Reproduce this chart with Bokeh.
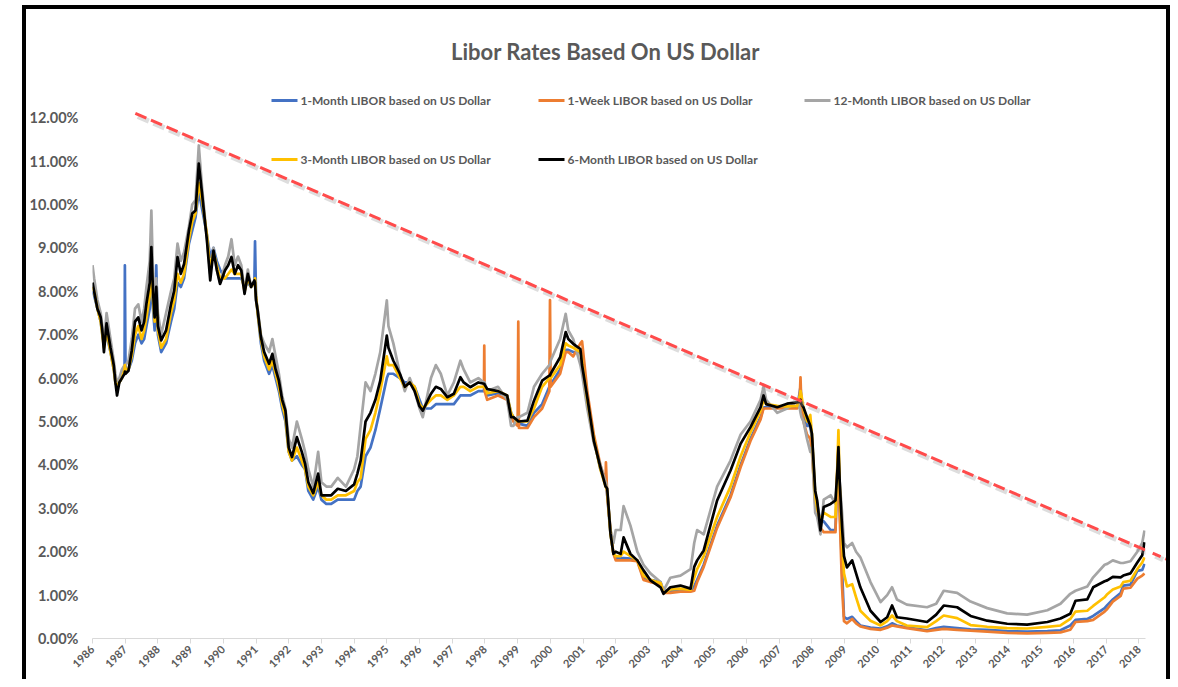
import math
from bokeh.plotting import figure
from bokeh.models import (Range1d, FixedTicker, PrintfTickFormatter, Arrow,
                          NormalHead, Label, ColumnDataSource)
from bokeh.embed import file_html
from bokeh.resources import INLINE

# ---------------- data (decimal years, percent) ----------------
dates = [
    1986.00, 1986.05, 1986.15, 1986.25, 1986.30, 1986.35, 1986.43, 1986.55, 1986.65, 1986.70, 1986.75, 1986.82, 1986.90, 1986.98, 1986.99,
    1987.01, 1987.10, 1987.20, 1987.30, 1987.40, 1987.50, 1987.58, 1987.65, 1987.75, 1987.80, 1987.85, 1987.90, 1987.95,
    1988.00, 1988.10, 1988.25, 1988.40, 1988.50, 1988.60, 1988.70, 1988.80, 1988.95,
    1989.05, 1989.15, 1989.25, 1989.35, 1989.50, 1989.60, 1989.70, 1989.80, 1989.90,
    1990.05, 1990.15, 1990.25, 1990.35, 1990.45, 1990.55, 1990.65, 1990.75, 1990.85, 1990.95, 1990.97,
    1991.00, 1991.05, 1991.15, 1991.25, 1991.40, 1991.50, 1991.60, 1991.70, 1991.80, 1991.90,
    1992.00, 1992.10, 1992.25, 1992.40, 1992.50, 1992.60, 1992.75, 1992.90,
    1993.00, 1993.15, 1993.30, 1993.50, 1993.75,
    1994.00, 1994.10, 1994.20, 1994.35, 1994.50, 1994.65, 1994.80,
    1995.00, 1995.05, 1995.20, 1995.40, 1995.55, 1995.70, 1995.85,
    1996.00, 1996.10, 1996.35, 1996.50, 1996.65, 1996.85,
    1997.05, 1997.25, 1997.35, 1997.55, 1997.80, 1997.97, 1997.98, 1997.99,
    1998.07, 1998.40, 1998.68, 1998.80, 1998.87,
    1999.00, 1999.02, 1999.04, 1999.30, 1999.50, 1999.75, 1999.97, 1999.99,
    2000.01, 2000.30, 2000.47, 2000.55, 2000.70, 2000.92, 2000.97,
    2001.13, 2001.33, 2001.53, 2001.69, 2001.70, 2001.74, 2001.84, 2001.93,
    2002.00, 2002.15, 2002.24, 2002.45, 2002.66, 2002.85,
    2003.06, 2003.37, 2003.46, 2003.67, 2003.98,
    2004.29, 2004.40, 2004.49, 2004.69,
    2005.10, 2005.51, 2005.82,
    2006.12, 2006.43, 2006.52, 2006.60, 2006.94,
    2007.24, 2007.55, 2007.63, 2007.65, 2007.68, 2007.74, 2007.85, 2007.95,
    2008.00, 2008.10, 2008.16, 2008.26, 2008.36, 2008.57, 2008.72, 2008.78, 2008.81, 2008.85, 2008.92, 2008.98,
    2009.07, 2009.23, 2009.35, 2009.48, 2009.79,
    2010.10, 2010.30, 2010.45, 2010.60, 2010.90,
    2011.52, 2011.80,
    2012.03, 2012.44, 2012.85,
    2013.36, 2013.97,
    2014.58,
    2015.20, 2015.60, 2015.90,
    2016.06, 2016.42, 2016.60, 2016.95,
    2017.03, 2017.20, 2017.44, 2017.52, 2017.74, 2017.95,
    2018.10, 2018.17,
]

libor_1m = [
    8.0, 7.9, 7.6, 7.3, 7.0, 6.8, 7.0, 6.6, 6.2, 5.9, 5.8, 5.9, 6.0, 6.2, 8.6,
    6.2, 6.2, 6.4, 6.8, 7.0, 6.8, 6.9, 7.2, 7.6, 8.3, 7.6, 7.1, 8.6,
    7.0, 6.6, 6.8, 7.3, 7.6, 8.2, 8.1, 8.3, 9.1,
    9.4, 9.7, 10.3, 9.9, 9.3, 8.8, 9.0, 8.7, 8.5,
    8.3, 8.3, 8.3, 8.3, 8.3, 8.3, 8.1, 8.2, 8.1, 8.2, 9.15,
    7.9, 7.5, 6.8, 6.4, 6.1, 6.3, 6.0, 5.7, 5.3, 5.0,
    4.3, 4.1, 4.2, 4.0, 3.9, 3.4, 3.2, 3.5,
    3.2, 3.1, 3.1, 3.2, 3.2,
    3.2, 3.4, 3.5, 4.2, 4.4, 4.8, 5.3,
    6.0, 6.1, 6.1, 6.0, 5.9, 5.9, 5.8,
    5.5, 5.3, 5.3, 5.4, 5.4, 5.4,
    5.4, 5.6, 5.6, 5.6, 5.7, 5.7, 5.8, 5.7,
    5.6, 5.65, 5.6, 5.2, 5.1,
    5.0, 5.0, 4.95, 4.9, 5.2, 5.4, 5.8, 5.9,
    5.85, 6.2, 6.65, 6.65, 6.6, 6.6, 6.5,
    5.6, 4.6, 3.9, 3.6, 3.6, 3.3, 2.4, 1.95,
    1.85, 1.85, 1.85, 1.84, 1.8, 1.4,
    1.35, 1.3, 1.1, 1.1, 1.1,
    1.1, 1.2, 1.35, 1.7,
    2.6, 3.3, 4.0,
    4.6, 5.1, 5.32, 5.33, 5.32,
    5.32, 5.32, 5.7, 5.8, 5.5, 5.2, 4.9, 4.9,
    4.6, 3.3, 3.1, 2.7, 2.7, 2.5, 2.5, 3.9, 4.3, 3.0, 1.6, 0.5,
    0.45, 0.5, 0.4, 0.3, 0.25,
    0.23, 0.28, 0.35, 0.3, 0.26,
    0.19, 0.24,
    0.27, 0.24, 0.21,
    0.2, 0.17,
    0.16,
    0.17, 0.19, 0.3,
    0.43, 0.45, 0.52, 0.7,
    0.77, 0.9, 1.05, 1.22, 1.24, 1.56,
    1.58, 1.72,
]

# the 1-week series is only present from the end of 1997 on
week_start = 1997.97
libor_1w = [
    5.8, 6.75, 5.7,
    5.5, 5.6, 5.5, 5.1, 5.0,
    4.9, 7.3, 4.85, 4.85, 5.1, 5.3, 5.7, 7.8,
    5.8, 6.1, 6.6, 6.6, 6.5, 6.8, 6.85,
    5.7, 4.7, 4.0, 3.6, 4.06, 3.3, 2.5, 1.95,
    1.8, 1.8, 1.8, 1.8, 1.78, 1.35,
    1.3, 1.25, 1.05, 1.05, 1.08,
    1.08, 1.1, 1.3, 1.65,
    2.55, 3.25, 3.95,
    4.55, 5.05, 5.3, 5.3, 5.3,
    5.3, 5.3, 5.6, 6.02, 5.3, 5.0, 4.7, 4.6,
    4.3, 3.1, 3.0, 2.55, 2.45, 2.45, 2.45, 4.0, 4.4, 2.8, 1.2, 0.4,
    0.35, 0.45, 0.35, 0.28, 0.22,
    0.2, 0.25, 0.3, 0.28, 0.24,
    0.17, 0.2,
    0.22, 0.2, 0.18,
    0.16, 0.13,
    0.12,
    0.13, 0.14, 0.2,
    0.38, 0.4, 0.43, 0.62,
    0.68, 0.85, 0.98, 1.15, 1.17, 1.38,
    1.45, 1.5,
]

libor_12m = [
    8.6, 8.3, 7.8, 7.5, 7.2, 6.8, 7.5, 6.9, 6.4, 6.1, 5.9, 6.0, 6.2, 6.3, 6.3,
    6.3, 6.4, 6.9, 7.6, 7.7, 7.3, 7.6, 8.1, 8.7, 9.86, 8.4, 7.7, 8.3,
    7.5, 7.0, 7.5, 8.0, 8.3, 9.1, 8.7, 8.9, 9.5,
    10.0, 10.1, 11.36, 10.4, 9.2, 8.4, 9.0, 8.5, 8.2,
    8.6, 8.8, 9.2, 8.6, 8.8, 8.6, 8.0, 8.5, 8.1, 8.2, 8.2,
    7.8, 7.6, 7.0, 6.8, 6.6, 6.9, 6.5, 6.1, 5.6, 5.3,
    4.6, 4.4, 5.0, 4.6, 4.3, 3.9, 3.5, 4.3,
    3.6, 3.5, 3.5, 3.7, 3.5,
    3.9, 4.2, 4.9, 5.9, 5.7, 6.1, 6.6,
    7.79, 7.2, 6.8, 6.1, 5.7, 6.0, 5.7,
    5.3, 5.1, 6.0, 6.3, 6.1, 5.6,
    5.9, 6.4, 6.2, 5.9, 6.0, 5.9, 5.9, 5.9,
    5.7, 5.8, 5.5, 4.9, 4.9,
    5.1, 5.1, 5.1, 5.2, 5.8, 6.1, 6.3, 6.3,
    6.4, 6.9, 7.48, 7.1, 6.9, 6.3, 6.1,
    5.3, 4.5, 4.0, 3.6, 3.6, 3.4, 2.5, 2.2,
    2.5, 2.5, 3.05, 2.6, 2.0, 1.7,
    1.5, 1.3, 1.1, 1.4, 1.45,
    1.6, 2.2, 2.5, 2.4,
    3.5, 4.1, 4.7,
    5.0, 5.5, 5.8, 5.5, 5.2,
    5.3, 5.45, 5.3, 5.2, 5.1, 5.0, 4.6, 4.3,
    4.4, 2.9, 2.8, 2.4, 3.2, 3.3, 3.1, 3.8, 4.0, 3.6, 2.9, 2.2,
    2.1, 2.2, 2.0, 1.87, 1.3,
    0.84, 1.0, 1.18, 0.9, 0.78,
    0.72, 0.8,
    1.1, 1.05, 0.85,
    0.70, 0.58,
    0.55,
    0.65, 0.8, 1.03,
    1.1, 1.2, 1.41, 1.7,
    1.72, 1.8, 1.74, 1.74, 1.78, 2.0,
    2.2, 2.49,
]

libor_3m = [
    8.1, 8.0, 7.6, 7.3, 7.0, 6.7, 7.1, 6.6, 6.2, 5.9, 5.8, 5.9, 6.0, 6.2, 6.3,
    6.2, 6.2, 6.5, 7.0, 7.2, 6.9, 7.1, 7.4, 7.9, 8.7, 7.8, 7.3, 7.8,
    7.1, 6.7, 6.9, 7.5, 7.8, 8.4, 8.2, 8.4, 9.2,
    9.6, 9.8, 10.5, 10.1, 9.3, 8.5, 8.9, 8.6, 8.3,
    8.3, 8.4, 8.5, 8.4, 8.4, 8.4, 8.0, 8.3, 8.1, 8.2, 8.3,
    7.9, 7.5, 6.9, 6.5, 6.2, 6.4, 6.1, 5.8, 5.4, 5.1,
    4.3, 4.1, 4.4, 4.1, 3.9, 3.5, 3.3, 3.6,
    3.3, 3.2, 3.2, 3.3, 3.3,
    3.4, 3.6, 3.7, 4.6, 4.8, 5.2, 5.7,
    6.5, 6.3, 6.3, 6.0, 5.8, 5.9, 5.8,
    5.4, 5.3, 5.5, 5.6, 5.6, 5.5,
    5.6, 5.8, 5.8, 5.7, 5.8, 5.8, 5.8, 5.8,
    5.65, 5.7, 5.6, 5.2, 5.1,
    5.0, 5.0, 5.0, 5.0, 5.3, 5.8, 6.0, 6.0,
    6.0, 6.3, 6.8, 6.75, 6.7, 6.6, 6.4,
    5.5, 4.6, 3.9, 3.5, 3.5, 3.4, 2.4, 1.95,
    1.9, 1.9, 2.0, 1.9, 1.8, 1.45,
    1.35, 1.28, 1.05, 1.13, 1.15,
    1.12, 1.4, 1.6, 1.9,
    2.8, 3.5, 4.2,
    4.75, 5.25, 5.5, 5.4, 5.36,
    5.35, 5.36, 5.6, 5.7, 5.6, 5.3, 5.0, 5.15,
    4.7, 3.3, 3.0, 2.7, 2.9, 2.8, 2.8, 4.05, 4.8, 3.5, 2.2, 1.5,
    1.2, 1.25, 0.95, 0.64, 0.41,
    0.3, 0.4, 0.53, 0.4, 0.3,
    0.26, 0.4,
    0.53, 0.47, 0.31,
    0.27, 0.24,
    0.23,
    0.27, 0.3, 0.45,
    0.62, 0.64, 0.75, 0.95,
    1.02, 1.13, 1.2, 1.3, 1.33, 1.6,
    1.75, 1.87,
]

libor_6m = [
    8.2, 8.0, 7.6, 7.4, 7.1, 6.6, 7.26, 6.7, 6.3, 5.9, 5.6, 5.9, 6.0, 6.1, 6.15,
    6.1, 6.17, 6.63, 7.3, 7.4, 7.1, 7.3, 7.72, 8.2, 9.02, 8.0, 7.4, 8.1,
    7.2, 6.87, 7.1, 7.7, 8.02, 8.79, 8.4, 8.63, 9.4,
    9.79, 9.86, 10.94, 10.25, 9.17, 8.25, 8.94, 8.5, 8.17,
    8.48, 8.6, 8.79, 8.4, 8.6, 8.48, 7.94, 8.4, 8.1, 8.25, 8.2,
    7.8, 7.56, 6.94, 6.6, 6.33, 6.56, 6.2, 5.94, 5.5, 5.25,
    4.4, 4.18, 4.64, 4.3, 4.03, 3.6, 3.35, 3.8,
    3.3, 3.3, 3.3, 3.45, 3.4,
    3.55, 3.8, 4.1, 5.0, 5.2, 5.5, 5.94,
    6.98, 6.7, 6.4, 6.1, 5.8, 5.9, 5.7,
    5.35, 5.25, 5.64, 5.8, 5.75, 5.56,
    5.64, 6.02, 5.9, 5.79, 5.9, 5.87, 5.87, 5.85,
    5.75, 5.7, 5.6, 5.1, 5.1,
    5.02, 5.0, 5.0, 5.02, 5.48, 5.94, 6.06, 6.06,
    6.1, 6.48, 7.06, 6.9, 6.79, 6.67, 6.3,
    5.56, 4.56, 3.95, 3.5, 3.5, 3.45, 2.42, 1.95,
    2.0, 1.95, 2.33, 1.95, 1.8, 1.57,
    1.34, 1.18, 1.03, 1.18, 1.22,
    1.15, 1.65, 1.8, 2.03,
    3.18, 3.87, 4.49,
    4.87, 5.33, 5.6, 5.4, 5.33,
    5.41, 5.44, 5.45, 5.5, 5.4, 5.33, 5.1, 4.9,
    4.72, 3.4, 3.18, 2.49, 3.03, 3.1, 3.18, 3.9, 4.41, 3.6, 2.57, 1.9,
    1.64, 1.8, 1.5, 1.18, 0.64,
    0.38, 0.49, 0.76, 0.49, 0.46,
    0.38, 0.55,
    0.76, 0.72, 0.52,
    0.41, 0.34,
    0.32,
    0.38, 0.46, 0.57,
    0.87, 0.9, 1.18, 1.32,
    1.34, 1.42, 1.41, 1.45, 1.5, 1.75,
    1.92, 2.22,
]

year_ticks = list(range(1986, 2019))
rate_ticks = list(range(0, 13))

series_names = [
    "1-Month LIBOR based on US Dollar",
    "1-Week LIBOR based on US Dollar",
    "12-Month LIBOR based on US Dollar",
    "3-Month LIBOR based on US Dollar",
    "6-Month LIBOR based on US Dollar",
]
series_colors = ["#4472C4", "#ED7D31", "#A5A5A5", "#FFC000", "#000000"]

# hand-drawn downward trend arrow (start, end)
trend_years = [1987.31, 2018.87]
trend_rates = [12.10, 1.82]

title_text = "Libor Rates Based On US Dollar"

# ---------------- layout constants (page pixels) ----------------
CANVAS_LEFT_PX, CANVAS_TOP_PX = 26, 9
FRAME_LEFT_PX, FRAME_RIGHT_PX = 92, 1145
FRAME_TOP_PX, FRAME_BOTTOM_PX = 20, 638
CANVAS_RIGHT_PX, CANVAS_BOTTOM_PX = 1166, 679
PX_PER_PCT = 43.4
X0, X1 = 1986.0, 2018.2
Y0 = 0.0
Y1 = (FRAME_BOTTOM_PX - FRAME_TOP_PX) / PX_PER_PCT
FRAME_W = FRAME_RIGHT_PX - FRAME_LEFT_PX
FRAME_H = FRAME_BOTTOM_PX - FRAME_TOP_PX
px_per_year = FRAME_W / (X1 - X0)


def px_x(px):
    return X0 + (px - FRAME_LEFT_PX) / px_per_year


def px_y(py):
    return (FRAME_BOTTOM_PX - py) / PX_PER_PCT


GRAY_TXT = "#595959"
FONT = "Lato"

p = figure(frame_width=FRAME_W, frame_height=FRAME_H,
           x_range=Range1d(X0, X1), y_range=Range1d(Y0, Y1),
           output_backend="svg", toolbar_location=None,
           min_border_left=FRAME_LEFT_PX - CANVAS_LEFT_PX,
           min_border_right=CANVAS_RIGHT_PX - FRAME_RIGHT_PX,
           min_border_top=FRAME_TOP_PX - CANVAS_TOP_PX,
           min_border_bottom=CANVAS_BOTTOM_PX - FRAME_BOTTOM_PX,
           background_fill_color="white", border_fill_color="white",
           outline_line_color=None)
# the chart's black frame: drawn as shadows outside the element (no layout effect)
p.styles = {
    "margin-left": f"{CANVAS_LEFT_PX}px",
    "margin-top": f"{CANVAS_TOP_PX}px",
    "box-shadow": ("-4px 0 0 0 #000, 4px 0 0 0 #000, 0 -4px 0 0 #000, "
                   "-4px -4px 0 0 #000, 4px -4px 0 0 #000"),
}

p.xgrid.visible = False
p.ygrid.visible = False

# x axis
p.xaxis.ticker = FixedTicker(ticks=year_ticks)
p.xaxis.formatter = PrintfTickFormatter(format="%d")
p.xaxis.major_label_orientation = math.pi / 4
p.xaxis.axis_line_color = "#D9D9D9"
p.xaxis.major_tick_line_color = "#D9D9D9"
p.xaxis.major_tick_out = 5
p.xaxis.major_tick_in = 0
p.xaxis.minor_tick_line_color = None
p.xaxis.major_label_text_font = FONT
p.xaxis.major_label_text_font_size = "11px"
p.xaxis.major_label_text_font_style = "bold"
p.xaxis.major_label_text_color = GRAY_TXT
p.xaxis.major_label_standoff = 4

# y axis
p.yaxis.ticker = FixedTicker(ticks=rate_ticks)
p.yaxis.formatter = PrintfTickFormatter(format="%.2f%%")
p.yaxis.axis_line_color = None
p.yaxis.major_tick_line_color = None
p.yaxis.minor_tick_line_color = None
p.yaxis.major_tick_out = 0
p.yaxis.major_tick_in = 0
p.yaxis.major_label_standoff = 14
p.yaxis.major_label_text_font = FONT
p.yaxis.major_label_text_font_size = "14.5px"
p.yaxis.major_label_text_font_style = "bold"
p.yaxis.major_label_text_color = GRAY_TXT

# ---------------- series ----------------
i_week = dates.index(week_start)
series_data = [
    (dates, libor_1m),
    (dates[i_week:], libor_1w),
    (dates, libor_12m),
    (dates, libor_3m),
    (dates, libor_6m),
]
for (xs, ys), name, col in zip(series_data, series_names, series_colors):
    assert len(xs) == len(ys), name
    src = ColumnDataSource(dict(x=xs, y=ys))
    p.line("x", "y", source=src, line_color=col, line_width=2.7,
           line_join="round")

# ---------------- trend arrow (with soft shadow) ----------------
sh_dx = 2.5 / px_per_year
sh_dy = 3.0 / PX_PER_PCT
p.add_layout(Arrow(x_start=trend_years[0] + sh_dx, y_start=trend_rates[0] - sh_dy,
                   x_end=trend_years[1] + sh_dx, y_end=trend_rates[1] - sh_dy,
                   line_color="#9E9E9E", line_alpha=0.35, line_width=5,
                   line_dash="12 5",
                   end=NormalHead(size=16, fill_color="#9E9E9E", fill_alpha=0.3,
                                  line_color=None)))
p.add_layout(Arrow(x_start=trend_years[0], y_start=trend_rates[0],
                   x_end=trend_years[1], y_end=trend_rates[1],
                   line_color="#FF4B4B", line_width=3, line_dash="12 5",
                   end=NormalHead(size=16, fill_color="#FF4B4B",
                                  line_color="#FF4B4B", line_width=1)))

# ---------------- title ----------------
p.add_layout(Label(x=px_x(605), y=px_y(51), text=title_text,
                   text_font=FONT, text_font_size="22px",
                   text_font_style="bold", text_color=GRAY_TXT,
                   text_align="center", text_baseline="middle"))

# ---------------- legend (Excel-style, 3 columns x 2 rows) ----------------
col_px = [271, 538, 804]
row_px = [100, 159]
KEY_LEN = 26
TXT_GAP = 29
positions = [(0, 0), (0, 1), (0, 2), (1, 0), (1, 1)]
seg = dict(x0=[], x1=[], y=[], c=[])
for (r, c), name, col in zip(positions, series_names, series_colors):
    yy = px_y(row_px[r])
    seg["x0"].append(px_x(col_px[c]))
    seg["x1"].append(px_x(col_px[c] + KEY_LEN))
    seg["y"].append(yy)
    seg["c"].append(col)
    p.add_layout(Label(x=px_x(col_px[c] + TXT_GAP), y=yy, text=name,
                       text_font=FONT, text_font_size="12px",
                       text_font_style="bold", text_color=GRAY_TXT,
                       text_align="left", text_baseline="middle"))
p.segment(x0="x0", y0="y", x1="x1", y1="y", color="c", line_width=3,
          source=ColumnDataSource(seg))

open("out.html", "w").write(file_html(p, INLINE))
